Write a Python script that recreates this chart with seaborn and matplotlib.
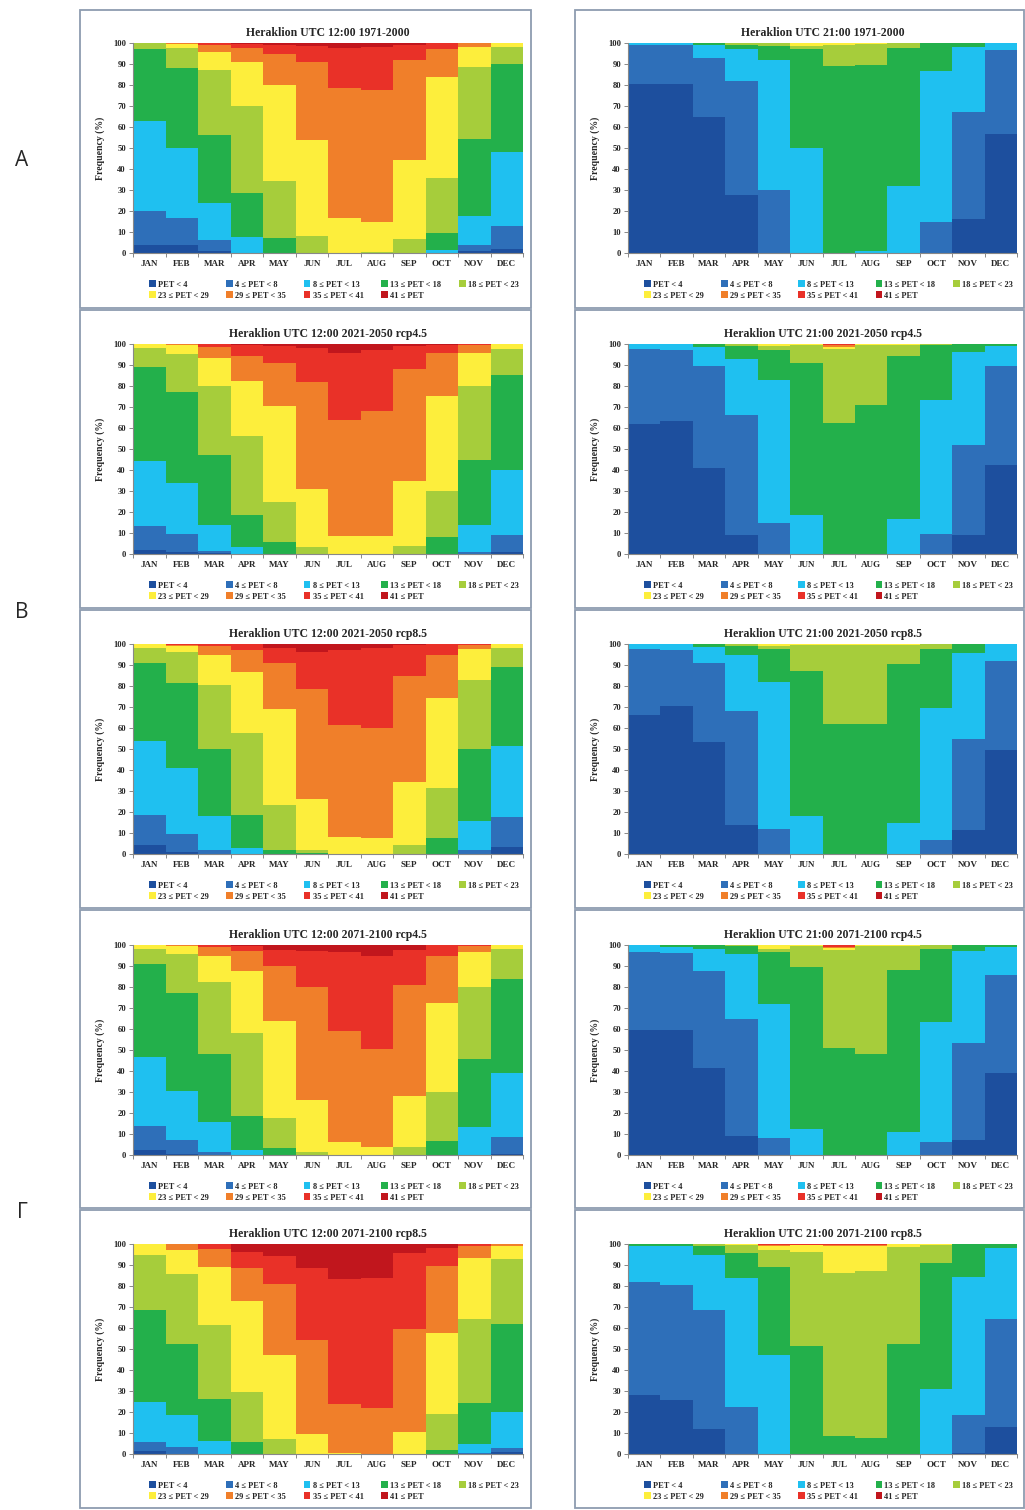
import numpy as np
import matplotlib
matplotlib.use('Agg')
import matplotlib.pyplot as plt
from matplotlib.patches import Patch, Rectangle
import seaborn as sns

# Months and PET classes
months = ['JAN', 'FEB', 'MAR', 'APR', 'MAY', 'JUN', 'JUL', 'AUG', 'SEP', 'OCT', 'NOV', 'DEC']
classes = ['PET < 4', '4 ≤ PET < 8', '8 ≤ PET < 13', '13 ≤ PET < 18', '18 ≤ PET < 23',
           '23 ≤ PET < 29', '29 ≤ PET < 35', '35 ≤ PET < 41', '41 ≤ PET']
class_colors = ['#1d4f9e', '#2e6fb9', '#1fc0f0', '#23b04b', '#a6cd3b',
                '#fdee3c', '#f07f2a', '#e93128', '#c1161d']

# Cumulative frequency (%) at the top of each class band, classes 1-8 (class 9 tops at 100)
noon_1971 = [
    [4, 20, 63, 97, 100, 100, 100, 100],
    [4, 16.5, 50, 88, 97.5, 99.3, 100, 100],
    [1, 6, 24, 56, 87, 95.5, 99, 100],
    [0, 0, 7.5, 28.5, 70, 91, 97.5, 99.5],
    [0, 0, 0, 7, 34.5, 80, 95, 99],
    [0, 0, 0, 0, 8, 54, 91, 98.5],
    [0, 0, 0, 0, 0, 16.5, 78.5, 97.5],
    [0, 0, 0, 0, 0.5, 15, 77.5, 98],
    [0, 0, 0, 0, 6.5, 44.5, 92, 99],
    [0, 0, 1.5, 9.5, 35.5, 84, 97, 100],
    [1, 4, 17.5, 54.5, 88.5, 98, 100, 100],
    [2, 13, 48, 90, 98, 100, 100, 100],
]
night_1971 = [
    [80.5, 99, 100, 100, 100, 100, 100, 100],
    [80.5, 99, 100, 100, 100, 100, 100, 100],
    [65, 93, 99, 100, 100, 100, 100, 100],
    [27.5, 82, 97, 99, 100, 100, 100, 100],
    [0, 30, 92, 98.5, 100, 100, 100, 100],
    [0, 0, 50, 97, 98.5, 100, 100, 100],
    [0, 0, 0, 89, 99, 100, 100, 100],
    [0, 0, 1, 89.5, 99.5, 100, 100, 100],
    [0, 0, 32, 97.5, 100, 100, 100, 100],
    [0, 15, 86.5, 100, 100, 100, 100, 100],
    [16, 67, 98, 100, 100, 100, 100, 100],
    [56.5, 96.5, 100, 100, 100, 100, 100, 100],
]
noon_2050_45 = [
    [2, 13.5, 44.5, 89, 98, 100, 100, 100],
    [1, 9.5, 34, 77, 95, 99.5, 100, 100],
    [0.5, 1.5, 14, 47, 80, 93.5, 98.5, 100],
    [0, 0, 3.5, 18.5, 56, 82.5, 94.5, 99.5],
    [0, 0, 0, 5.5, 25, 70.5, 91, 99],
    [0, 0, 0, 0, 3.5, 31, 82, 98],
    [0, 0, 0, 0, 0, 8.5, 64, 95.5],
    [0, 0, 0, 0, 0, 8.5, 68, 97],
    [0, 0, 0, 0, 4, 35, 88, 99],
    [0, 0, 0, 8, 30, 75, 95.5, 99.5],
    [0, 1, 14, 45, 80, 95.5, 99.5, 100],
    [1, 9, 40, 85, 97.5, 100, 100, 100],
]
night_2050_45 = [
    [62, 97.5, 100, 100, 100, 100, 100, 100],
    [63.5, 97, 100, 100, 100, 100, 100, 100],
    [41, 89.5, 98.5, 100, 100, 100, 100, 100],
    [9, 66, 93, 99, 100, 100, 100, 100],
    [0, 15, 83, 97, 99, 100, 100, 100],
    [0, 0, 18.5, 91, 99.5, 100, 100, 100],
    [0, 0, 0, 62.5, 97.5, 98.5, 99.3, 100],
    [0, 0, 0, 71, 99.5, 100, 100, 100],
    [0, 0, 16.5, 94.5, 99.5, 100, 100, 100],
    [0, 9.5, 73.5, 99.5, 100, 100, 100, 100],
    [9, 52, 96, 100, 100, 100, 100, 100],
    [42.5, 89.5, 99, 100, 100, 100, 100, 100],
]
noon_2050_85 = [
    [4.5, 18.5, 54, 91, 98, 100, 100, 100],
    [1, 9.5, 41, 81.5, 96, 99, 99.7, 100],
    [0, 2, 18, 50, 80.5, 95, 99, 100],
    [0, 0, 3, 18.5, 57.5, 86.5, 97, 100],
    [0, 0, 0, 2, 23.5, 69, 91, 98],
    [0, 0, 0, 0.5, 2, 26, 78.5, 96],
    [0, 0, 0, 0, 0, 8, 61.5, 97],
    [0, 0, 0, 0, 0, 7.5, 60, 98],
    [0, 0, 0, 0, 4.5, 34.5, 85, 99.5],
    [0, 0, 0, 7.5, 31.5, 74.5, 95, 100],
    [0, 2, 15.5, 50, 83, 97.5, 99.5, 100],
    [3.5, 17.5, 51.5, 89, 98, 100, 100, 100],
]
night_2050_85 = [
    [66, 97.5, 100, 100, 100, 100, 100, 100],
    [70.5, 97, 100, 100, 100, 100, 100, 100],
    [53.5, 91, 98.5, 100, 100, 100, 100, 100],
    [14, 68, 95, 99, 100, 100, 100, 100],
    [0, 12, 82, 97.5, 99, 100, 100, 100],
    [0, 0, 18, 87, 99.5, 100, 100, 100],
    [0, 0, 0, 62, 99.5, 100, 100, 100],
    [0, 0, 0, 62, 99.5, 100, 100, 100],
    [0, 0, 15, 90.5, 99.5, 100, 100, 100],
    [0, 6.5, 69.5, 97.5, 100, 100, 100, 100],
    [11.5, 55, 95.5, 100, 100, 100, 100, 100],
    [49.5, 92, 100, 100, 100, 100, 100, 100],
]
noon_2100_45 = [
    [2.5, 14, 46.5, 91, 98, 100, 100, 100],
    [0.5, 7, 30.5, 77, 95.5, 99.5, 100, 100],
    [0, 1.5, 15.5, 48, 82.5, 95, 99, 100],
    [0, 0, 2.5, 18.5, 58, 87.5, 97, 99.5],
    [0, 0, 0, 3.5, 17.5, 64, 90, 97.5],
    [0, 0, 0, 0, 1.5, 26, 80, 97],
    [0, 0, 0, 0, 0, 6, 59, 96.5],
    [0, 0, 0, 0, 0, 4, 50.5, 95],
    [0, 0, 0, 0, 4, 28, 81, 97.5],
    [0, 0, 0, 6.5, 30, 72.5, 95, 100],
    [0, 0, 13.5, 45.5, 80, 96.5, 99.5, 100],
    [0.5, 8.5, 39, 84, 98, 100, 100, 100],
]
night_2100_45 = [
    [59.5, 96.5, 100, 100, 100, 100, 100, 100],
    [59.5, 96, 99, 100, 100, 100, 100, 100],
    [41.5, 87.5, 98, 100, 100, 100, 100, 100],
    [9, 65, 95.5, 99.5, 100, 100, 100, 100],
    [0, 8, 72, 96.5, 98, 100, 100, 100],
    [0, 0, 12.5, 89.5, 99.5, 100, 100, 100],
    [0, 0, 0, 51, 97.5, 98.5, 99.2, 100],
    [0, 0, 0, 48, 99.5, 100, 100, 100],
    [0, 0, 11, 88, 99.5, 100, 100, 100],
    [0, 6, 63.5, 98, 100, 100, 100, 100],
    [7, 53.5, 97, 100, 100, 100, 100, 100],
    [39, 85.5, 99, 100, 100, 100, 100, 100],
]
noon_2100_85 = [
    [1.5, 5.5, 25, 68.5, 95, 100, 100, 100],
    [0, 3.5, 18.5, 52.5, 85.5, 97, 100, 100],
    [0, 0, 6, 26, 61.5, 89, 97.5, 100],
    [0, 0, 0, 5.5, 29.5, 73, 88.5, 96],
    [0, 0, 0, 0, 7, 47, 81, 94.5],
    [0, 0, 0, 0, 0, 9.5, 54.5, 88.5],
    [0, 0, 0, 0, 0, 0.5, 24, 83.5],
    [0, 0, 0, 0, 0, 0, 22, 84],
    [0, 0, 0, 0, 0, 10.5, 59.5, 95.5],
    [0, 0, 0, 2, 19, 57.5, 89.5, 98],
    [0, 0.5, 5, 24.5, 64.5, 93.5, 99, 100],
    [1, 3, 20, 62, 93, 99, 100, 100],
]
night_2100_85 = [
    [28, 82, 99, 100, 100, 100, 100, 100],
    [25.5, 80.5, 99, 100, 100, 100, 100, 100],
    [12, 68.5, 95, 99, 100, 100, 100, 100],
    [0, 22.5, 84, 95.5, 99.5, 100, 100, 100],
    [0, 0, 47, 89, 97, 99, 99.5, 100],
    [0, 0, 0, 51.5, 96, 99.5, 99.7, 100],
    [0, 0, 0, 8.5, 86, 99, 99.5, 100],
    [0, 0, 0, 7.5, 87, 99, 99.5, 100],
    [0, 0, 0, 52.5, 98.5, 100, 100, 100],
    [0, 0, 31, 91, 99.5, 100, 100, 100],
    [0.5, 18.5, 84.5, 100, 100, 100, 100, 100],
    [13, 64.5, 98, 100, 100, 100, 100, 100],
]

panel_titles = [
    ('Heraklion UTC 12:00 1971-2000', 'Heraklion UTC 21:00 1971-2000'),
    ('Heraklion UTC 12:00 2021-2050 rcp4.5', 'Heraklion UTC 21:00 2021-2050 rcp4.5'),
    ('Heraklion UTC 12:00 2021-2050 rcp8.5', 'Heraklion UTC 21:00 2021-2050 rcp8.5'),
    ('Heraklion UTC 12:00 2071-2100 rcp4.5', 'Heraklion UTC 21:00 2071-2100 rcp4.5'),
    ('Heraklion UTC 12:00 2071-2100 rcp8.5', 'Heraklion UTC 21:00 2071-2100 rcp8.5'),
]
panel_data = [
    (noon_1971, night_1971),
    (noon_2050_45, night_2050_45),
    (noon_2050_85, night_2050_85),
    (noon_2100_45, night_2100_45),
    (noon_2100_85, night_2100_85),
]
row_letters = ['A', 'B', 'Γ']

sns.set_theme(style='white')
plt.rcParams['font.family'] = ['Liberation Serif', 'DejaVu Serif']
plt.rcParams['font.weight'] = 'bold'

W, H = 1025, 1510
fig = plt.figure(figsize=(W / 100, H / 100), dpi=100)
fig.patch.set_facecolor('white')


def add_px_axes(x0, y0, x1, y1):
    return fig.add_axes([x0 / W, 1 - y1 / H, (x1 - x0) / W, (y1 - y0) / H])


def draw_panel(ax, cum, title):
    cum = np.asarray(cum, dtype=float)
    tops = np.column_stack([cum, np.full(len(months), 100.0)])
    bottoms = np.column_stack([np.zeros(len(months)), cum])
    for k in range(len(classes)):
        sns.barplot(x=months, y=tops[:, k] - bottoms[:, k], bottom=bottoms[:, k],
                    color=class_colors[k], saturation=1, width=1.0, errorbar=None,
                    linewidth=0, ax=ax)
    ax.set_xlim(-0.5, 11.5)
    ax.set_ylim(0, 100)
    ax.set_yticks(range(0, 101, 10))
    ax.set_xticks(range(12))
    ax.set_xticklabels(months, fontsize=6.5, fontweight='bold')
    ax.set_xticks(np.arange(-0.5, 12, 1), minor=True)
    ax.tick_params(axis='y', labelsize=6.2, left=True, length=3, width=0.7, color='#888888', pad=2)
    ax.tick_params(axis='x', which='major', bottom=True, length=0, pad=5)
    ax.tick_params(axis='x', which='minor', bottom=True, length=3, width=0.7, color='#888888')
    for lab in ax.get_yticklabels():
        lab.set_fontweight('bold')
    for side in ['top', 'right']:
        ax.spines[side].set_visible(False)
    for side in ['left', 'bottom']:
        ax.spines[side].set_color('#888888')
        ax.spines[side].set_linewidth(0.8)
    ax.set_xlabel('')
    ax.set_ylabel('Frequency (%)', fontsize=7, fontweight='bold', labelpad=6)
    ax.set_title(title, fontsize=8.5, fontweight='bold', pad=5)

    # Row-major legend order for a 5-column, 2-row legend
    order = [0, 5, 1, 6, 2, 7, 3, 8, 4]
    handles = [Patch(facecolor=class_colors[i], edgecolor='none') for i in order]
    labels = [classes[i] for i in order]
    ax.legend(handles, labels, ncol=5, loc='center', mode='expand',
              bbox_to_anchor=(0.03, -0.226, 0.97, 0.1), frameon=False,
              prop={'size': 6, 'weight': 'bold'}, handlelength=0.8, handleheight=0.8,
              handletextpad=0.25, labelspacing=0.35, borderpad=0)


frame_tops = [10, 310, 610, 910, 1210]
axes_tops = [43, 344, 644, 945, 1244]
for r in range(5):
    for c, (fx0, fx1, ax0, ax1) in enumerate([(80, 531, 133, 523), (575, 1024, 628, 1017)]):
        fig.add_artist(Rectangle((fx0 / W, 1 - (frame_tops[r] + 298) / H), (fx1 - fx0) / W, 298 / H,
                                 transform=fig.transFigure, fill=False,
                                 edgecolor='#8e9cb0', linewidth=1.3))
        ax = add_px_axes(ax0, axes_tops[r], ax1, axes_tops[r] + 210)
        draw_panel(ax, panel_data[r][c], panel_titles[r][c])

for letter, ypx in zip(row_letters, [160, 612, 1212]):
    fig.text(22 / W, 1 - ypx / H, letter, ha='center', va='center', fontsize=15,
             fontweight='normal', family=['Open Sans', 'DejaVu Sans'])

fig.savefig('out.png', dpi=100)
